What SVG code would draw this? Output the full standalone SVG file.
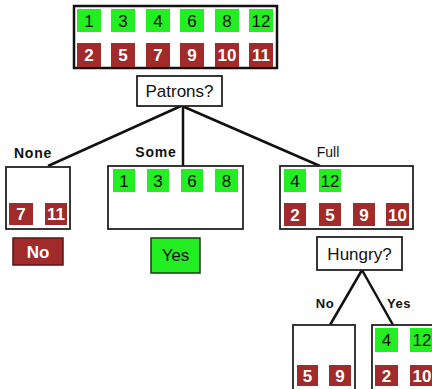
<svg xmlns="http://www.w3.org/2000/svg" width="432" height="389" viewBox="0 0 432 389">
<style>
.box{fill:#fff;stroke:#222;stroke-width:1.8}
.g{fill:#22ee22}
.r{fill:#a12a2a}
.tg{font-family:"Liberation Sans",Arial,sans-serif;font-size:17px;fill:#111;text-anchor:middle}
.tr{font-family:"Liberation Sans",Arial,sans-serif;font-size:17px;font-weight:bold;fill:#fff;text-anchor:middle}
.q{font-family:"Liberation Sans",Arial,sans-serif;font-size:17px;fill:#111;text-anchor:middle}
.lb{font-family:"Liberation Sans",Arial,sans-serif;font-size:14px;font-weight:bold;fill:#111;text-anchor:middle;letter-spacing:0.8px}
.ls{font-family:"Liberation Sans",Arial,sans-serif;font-size:13px;font-weight:bold;fill:#111;text-anchor:middle;letter-spacing:0.5px}
.ln{font-family:"Liberation Sans",Arial,sans-serif;font-size:14px;fill:#111;text-anchor:middle}
.edge{stroke:#111;stroke-width:2.5;fill:none}
</style>
<rect width="432" height="389" fill="#fff"/>
<g id="connectors">
<line class="edge" x1="181" y1="106" x2="48" y2="166"/>
<line class="edge" x1="183" y1="106" x2="183" y2="166"/>
<line class="edge" x1="182" y1="106" x2="320" y2="166"/>
<line class="edge" x1="362" y1="270" x2="330" y2="325"/>
<line class="edge" x1="362" y1="270" x2="393" y2="325"/>
</g>
<g id="root">
<rect x="74" y="6" width="203" height="62" fill="#fff" stroke="#111" stroke-width="2.5"/>
<rect class="g" x="77" y="9" width="24" height="23"/><text class="tg" x="89" y="27">1</text>
<rect class="g" x="111" y="9" width="24" height="23"/><text class="tg" x="123" y="27">3</text>
<rect class="g" x="146" y="9" width="24" height="23"/><text class="tg" x="158" y="27">4</text>
<rect class="g" x="180" y="9" width="24" height="23"/><text class="tg" x="192" y="27">6</text>
<rect class="g" x="215" y="9" width="24" height="23"/><text class="tg" x="227" y="27">8</text>
<rect class="g" x="249" y="9" width="24" height="23"/><text class="tg" x="261" y="27">12</text>
<rect class="r" x="77" y="43" width="24" height="24"/><text class="tr" x="89" y="61">2</text>
<rect class="r" x="111" y="43" width="24" height="24"/><text class="tr" x="123" y="61">5</text>
<rect class="r" x="146" y="43" width="24" height="24"/><text class="tr" x="158" y="61">7</text>
<rect class="r" x="180" y="43" width="24" height="24"/><text class="tr" x="192" y="61">9</text>
<rect class="r" x="215" y="43" width="24" height="24"/><text class="tr" x="227" y="61">10</text>
<rect class="r" x="249" y="43" width="24" height="24"/><text class="tr" x="261" y="61">11</text>
</g>
<g id="patrons">
<rect class="box" x="137" y="76" width="85" height="30"/>
<text class="q" x="179.5" y="97">Patrons?</text>
</g>
<g id="label-none"><text class="lb" x="33" y="158">None</text></g>
<g id="label-some"><text class="lb" x="156" y="157">Some</text></g>
<g id="label-full"><text class="ln" x="328" y="157">Full</text></g>
<g id="none">
<rect class="box" x="6" y="167" width="64" height="62"/>
<rect class="r" x="9" y="203" width="24" height="22"/><text class="tr" x="21" y="220">7</text>
<rect class="r" x="45" y="203" width="22" height="22"/><text class="tr" x="56" y="220">11</text>
</g>
<g id="leaf-no">
<rect x="13" y="238" width="50" height="27" fill="#a12a2a" stroke="#5a1414" stroke-width="1.5"/>
<text class="tr" x="38" y="258">No</text>
</g>
<g id="some">
<rect class="box" x="108" y="166" width="135" height="63"/>
<rect class="g" x="113" y="169" width="22" height="23"/><text class="tg" x="124" y="187">1</text>
<rect class="g" x="147" y="169" width="22" height="23"/><text class="tg" x="158" y="187">3</text>
<rect class="g" x="181" y="169" width="22" height="23"/><text class="tg" x="192" y="187">6</text>
<rect class="g" x="215" y="169" width="23" height="23"/><text class="tg" x="226.5" y="187">8</text>
</g>
<g id="leaf-yes">
<rect x="151" y="238" width="49" height="35" fill="#22ee22" stroke="#1a3a1a" stroke-width="1.5"/>
<text class="q" x="175.5" y="261">Yes</text>
</g>
<g id="full">
<rect class="box" x="280" y="166" width="133" height="63"/>
<rect class="g" x="284" y="169" width="22" height="23"/><text class="tg" x="295" y="187">4</text>
<rect class="g" x="319" y="169" width="22" height="23"/><text class="tg" x="330" y="187">12</text>
<rect class="r" x="284" y="203" width="22" height="23"/><text class="tr" x="295" y="221">2</text>
<rect class="r" x="319" y="203" width="22" height="23"/><text class="tr" x="330" y="221">5</text>
<rect class="r" x="353" y="203" width="22" height="23"/><text class="tr" x="364" y="221">9</text>
<rect class="r" x="386" y="203" width="23" height="23"/><text class="tr" x="397.5" y="221">10</text>
</g>
<g id="hungry">
<rect class="box" x="317" y="237" width="85" height="33"/>
<text class="q" x="359.5" y="260">Hungry?</text>
</g>
<g id="label-no"><text class="ls" x="325" y="308">No</text></g>
<g id="label-yes"><text class="ls" x="399" y="308">Yes</text></g>
<g id="hungry-no">
<rect class="box" x="293" y="325" width="62" height="70"/>
<rect class="r" x="297" y="365" width="21" height="21"/><text class="tr" x="307.5" y="382">5</text>
<rect class="r" x="329" y="365" width="22" height="21"/><text class="tr" x="340" y="382">9</text>
</g>
<g id="hungry-yes">
<rect class="box" x="372" y="325" width="66" height="70"/>
<rect class="g" x="375" y="328" width="23" height="24"/><text class="tg" x="386.5" y="346">4</text>
<rect class="g" x="410" y="328" width="24" height="24"/><text class="tg" x="422" y="346">12</text>
<rect class="r" x="375" y="365" width="23" height="21"/><text class="tr" x="386.5" y="382">2</text>
<rect class="r" x="410" y="365" width="24" height="21"/><text class="tr" x="422" y="382">10</text>
</g>
</svg>
